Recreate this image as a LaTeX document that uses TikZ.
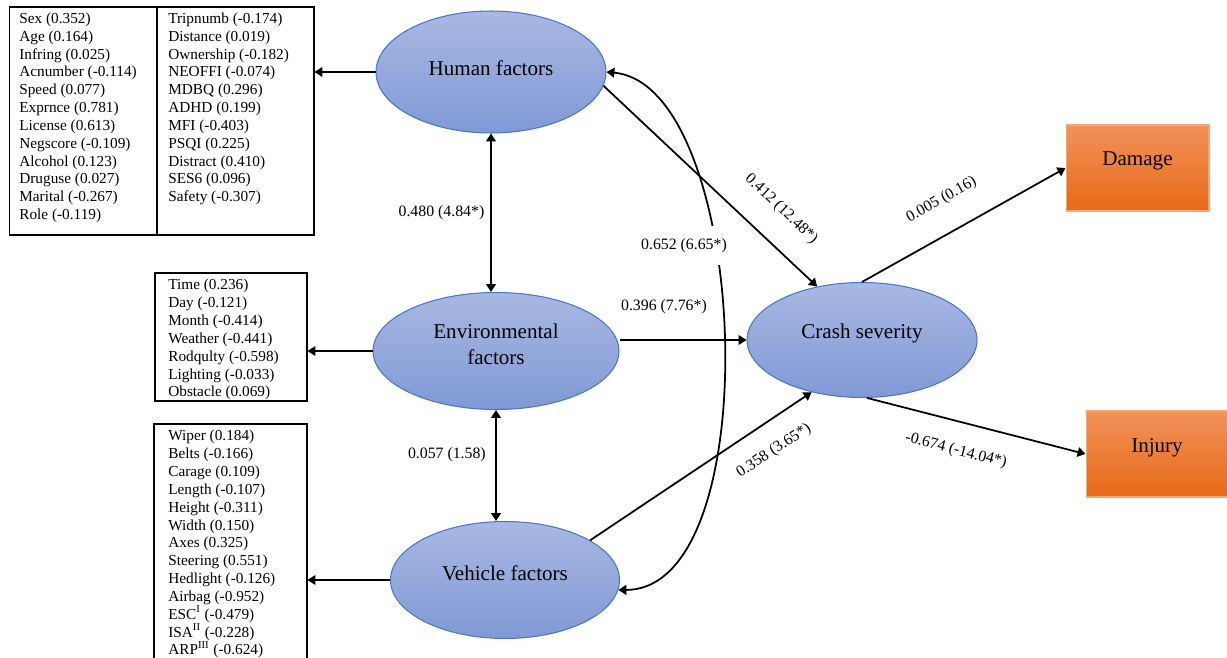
\documentclass[tikz,border=0pt]{standalone}
\usepackage{fontspec}
\setmainfont{Liberation Serif}
\usetikzlibrary{shapes.geometric,arrows.meta}
\definecolor{latentTop}{HTML}{A9B8E3}
\definecolor{latentBot}{HTML}{8099D5}
\definecolor{latentLine}{HTML}{4A76C6}
\definecolor{outTop}{HTML}{F2915A}
\definecolor{outBot}{HTML}{E76A16}
\definecolor{outLine}{HTML}{F5A875}
\begin{document}
\begin{tikzpicture}[x=0.02cm,y=-0.02cm]
        \tikzstyle{latent}=[ellipse,draw=latentLine,line width=0.6pt,top color=latentTop,bottom color=latentBot,inner sep=0pt]
        \tikzstyle{observed}=[rectangle,draw=outLine,line width=0.6pt,top color=outTop,bottom color=outBot,inner sep=0pt]
        \tikzstyle{listbox}=[rectangle,draw=black,line width=0.6pt,inner sep=0pt]
        \tikzstyle{listtext}=[anchor=north west,align=left,inner sep=0pt,font=\fontsize{8.7}{10.15}\selectfont]
        \tikzstyle{ftext}=[font=\fontsize{12}{15}\selectfont,align=center]
        \tikzstyle{coef}=[font=\fontsize{9}{10}\selectfont]
        \tikzstyle{edge}=[draw=black,line width=1pt,-{Triangle[length=4.5pt,width=5.5pt]}]
        \tikzstyle{bedge}=[draw=black,line width=1pt,{Triangle[length=4.5pt,width=5.5pt]}-{Triangle[length=4.5pt,width=5.5pt]}]

        \clip (0,0) rectangle (1227,658);
        \fill[white] (0,0) rectangle (1227,658);

        % latent variables
        \node [latent,minimum width=4.6cm,minimum height=2.44cm,label={[ftext,yshift=0.08cm]center:Human factors}] (hum) at (491,72) {};
        \node [latent,minimum width=4.92cm,minimum height=2.34cm,label={[ftext,yshift=0.14cm]center:Environmental\\factors}] (env) at (496,351) {};
        \node [latent,minimum width=4.58cm,minimum height=2.34cm,label={[ftext,yshift=0.14cm]center:Vehicle factors}] (veh) at (505,580) {};
        \node [latent,minimum width=4.6cm,minimum height=2.3cm,label={[ftext,yshift=0.14cm]center:Crash severity}] (crash) at (862,340) {};

        % outcomes
        \node [observed,minimum width=2.86cm,minimum height=1.72cm,label={[ftext,yshift=0.14cm]center:Damage}] (dmg) at (1137.5,168) {};
        \node [observed,minimum width=2.84cm,minimum height=1.72cm,label={[ftext,yshift=0.12cm]center:Injury}] (inj) at (1157,454) {};

        % indicator lists
        \node [listbox,minimum width=6.1cm,minimum height=4.56cm] (hbox) at (161.5,121) {};
        \draw [line width=0.6pt] ([xshift=-0.09cm]hbox.north) -- ([xshift=-0.09cm]hbox.south);
        \node [listtext] (hlistA) at (19,12.5) {Sex (0.352)\\Age (0.164)\\Infring (0.025)\\Acnumber (-0.114)\\Speed (0.077)\\Exprnce (0.781)\\License (0.613)\\Negscore (-0.109)\\Alcohol (0.123)\\Druguse (0.027)\\Marital (-0.267)\\Role (-0.119)};
        \node [listtext] (hlistB) at (168,12.5) {Tripnumb (-0.174)\\Distance (0.019)\\Ownership (-0.182)\\NEOFFI (-0.074)\\MDBQ (0.296)\\ADHD (0.199)\\MFI (-0.403)\\PSQI (0.225)\\Distract (0.410)\\SES6 (0.096)\\Safety (-0.307)};

        \node [listbox,minimum width=3.04cm,minimum height=2.56cm] (ebox) at (231,337) {};
        \node [listtext] (elist) at (168,279) {Time (0.236)\\Day (-0.121)\\Month (-0.414)\\Weather (-0.441)\\Rodqulty (-0.598)\\Lighting (-0.033)\\Obstacle (0.069)};

        \node [listbox,minimum width=3.06cm,minimum height=4.96cm] (vbox) at (230.5,548) {};
        \node [listtext] (vlist) at (168,430) {Wiper (0.184)\\Belts (-0.166)\\Carage (0.109)\\Length (-0.107)\\Height (-0.311)\\Width (0.150)\\Axes (0.325)\\Steering (0.551)\\Hedlight (-0.126)\\Airbag (-0.952)\\ESC\textsuperscript{I} (-0.479)\\ISA\textsuperscript{II} (-0.228)\\ARP\textsuperscript{III} (-0.624)};

        % paths
        \path[edge] (hum.west) -- (hbox.east |- hum.west);
        \path[edge] (env.west) -- (ebox.east |- env.west);
        \path[edge] (veh.west) -- (vbox.east |- veh.west);

        \path[bedge] (hum.south) -- (hum.south |- env.north) node[coef,midway,left] {0.480 (4.84*)};
        \path[bedge] (env.south) -- (env.south |- veh.north) node[coef,pos=0.4,left=2pt] {0.057 (1.58)};

        \path[edge] (hum.-7.5) -- (crash.130) node[coef,pos=0.73,sloped,above=0.36cm] {0.412 (12.48*)};
        \path[edge] (env.east |- crash.west) -- (crash.west) node[coef,pos=0.35,above=0.38cm] {0.396 (7.76*)};
        \path[edge] (veh.25) -- (crash.226) node[coef,pos=0.76,sloped,below=0.28cm] {0.358 (3.65*)};
        \path[edge] (crash.north) -- (dmg.west) node[coef,pos=0.47,sloped,above=0.38cm] {0.005 (0.16)};
        \path[edge] (crash.-85) -- (inj.west) node[coef,pos=0.44,sloped,below=0.3cm] {-0.674 (-14.04*)};

        \path[bedge] (hum.east) .. controls (750,85) and (770,590) .. (veh.-5) node[coef,pos=0.38,xshift=-0.6cm,fill=white,inner ysep=7pt] {0.652 (6.65*)};
\end{tikzpicture}
\end{document}
